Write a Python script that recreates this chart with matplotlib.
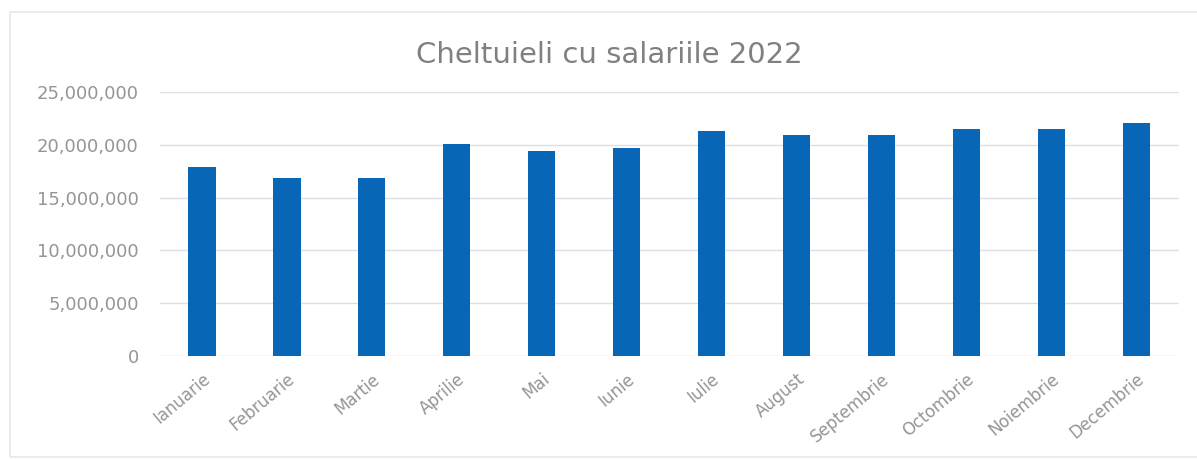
import matplotlib.pyplot as plt
from matplotlib.ticker import FuncFormatter
from matplotlib.patches import Rectangle

# Date
luni = ['Ianuarie', 'Februarie', 'Martie', 'Aprilie', 'Mai', 'Iunie',
        'Iulie', 'August', 'Septembrie', 'Octombrie', 'Noiembrie', 'Decembrie']
cheltuieli = [17900000, 16900000, 16900000, 20100000, 19400000, 19700000,
              21300000, 20900000, 20900000, 21500000, 21500000, 22100000]
yticks = [0, 5000000, 10000000, 15000000, 20000000, 25000000]

plt.rcParams['font.family'] = ['DejaVu Sans']

fig = plt.figure(figsize=(11.97, 4.59), dpi=100)
ax = fig.add_axes([0.1333, 0.2244, 0.8513, 0.5752])

# chenar discret in jurul graficului
fig.patches.append(Rectangle((10 / 1197, 2 / 459), 1.2, 445 / 459, transform=fig.transFigure,
                             fill=False, edgecolor='#e8e8ec', linewidth=1.2))

x = range(len(luni))
ax.bar(x, cheltuieli, width=0.32, color='#0866B6', zorder=3)

ax.set_xlim(-0.5, len(luni) - 0.5)
ax.set_ylim(0, 25000000)
ax.set_yticks(yticks)
ax.yaxis.set_major_formatter(FuncFormatter(lambda v, p: f'{int(v):,}'))
ax.set_xticks(list(x))
ax.set_xticklabels(luni, rotation=40, ha='right', rotation_mode='anchor')

ax.grid(axis='y', color='#dedee8', linewidth=1, zorder=0)
for s in ax.spines.values():
    s.set_visible(False)
ax.tick_params(axis='both', length=0, colors='#959595')
ax.tick_params(axis='y', pad=15, labelsize=13)
ax.tick_params(axis='x', pad=10, labelsize=12)

fig.text(0.509, 0.88, 'Cheltuieli cu salariile 2022', ha='center', va='center',
         fontsize=21, color='#808080')

fig.savefig('out.png', dpi=100)
